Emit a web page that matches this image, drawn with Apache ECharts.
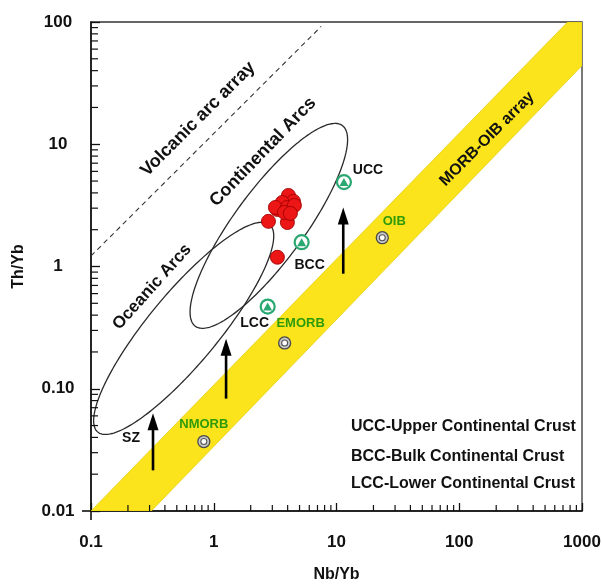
<!DOCTYPE html>
<html>
<head>
<meta charset="utf-8">
<script src="https://cdn.jsdelivr.net/npm/echarts@6/dist/echarts.min.js"></script>
<style>
  html, body { margin: 0; padding: 0; background: #fff; }
  #chart { width: 602px; height: 585px; }
</style>
</head>
<body>
<div id="chart"></div>
<script>
// ---- Axis ranges and ticks ----
const nbYbRange = [0.1, 1000];
const thYbRange = [0.01, 100];
const xTickLabels = ['0.1', '1', '10', '100', '1000'];
const yTickLabels = ['0.01', '0.10', '1', '10', '100'];
const xMinorTicks = [0.2, 0.3, 0.4, 0.5, 0.6, 0.7, 0.8, 0.9, 2, 3, 4, 5, 6, 7, 8, 9,
                     20, 30, 40, 50, 60, 70, 80, 90, 200, 300, 400, 500, 600, 700, 800, 900];
const yMinorTicks = [0.02, 0.03, 0.04, 0.05, 0.06, 0.07, 0.08, 0.09, 0.2, 0.3, 0.4, 0.5, 0.6, 0.7, 0.8, 0.9,
                     2, 3, 4, 5, 6, 7, 8, 9, 20, 30, 40, 50, 60, 70, 80, 90];

// ---- Samples ----
const sampleNbYb = [2.79, 3.30, 3.98, 3.30, 4.06, 4.46, 3.62, 3.18, 3.98, 4.54, 3.77, 4.21];
const sampleThYb = [2.34, 2.93, 2.29, 1.19, 3.81, 3.41, 3.34, 3.04, 3.04, 3.16, 2.77, 2.72];

// ---- Reference crust compositions ----
const crustNames = ['UCC', 'BCC', 'LCC'];
const crustNbYb = [11.5, 5.2, 2.75];
const crustThYb = [4.9, 1.58, 0.47];

// ---- Reference mantle-derived compositions ----
const mantleNames = ['NMORB', 'EMORB', 'OIB'];
const mantleNbYb = [0.83, 3.78, 23.6];
const mantleThYb = [0.037, 0.237, 1.72];

// ---- MORB-OIB array (band outline) ----
const bandNbYb = [0.1, 764, 1000, 1000, 0.31];
const bandThYb = [0.01, 100, 100, 44, 0.01];

// ---- Volcanic arc array (dashed line) ----
const volcanicNbYb = [0.1, 7.5];
const volcanicThYb = [1.22, 92];

// ---- Arc fields (ellipses in log10 space) ----
const fieldNames = ['Oceanic Arcs', 'Continental Arcs'];
const fieldCentreNbYb = [0.569, 2.81];
const fieldCentreThYb = [0.312, 2.15];
const fieldSemiMajorDecades = [1.10, 1.016];
const fieldSemiMinorDecades = [0.286, 0.286];
const fieldTiltDeg = [50.5, 53.9];

// ---- Enrichment arrows ----
const arrowNbYb = [0.32, 1.26, 11.35];
const arrowBaseThYb = [0.0215, 0.083, 0.873];
const arrowTipThYb = [0.063, 0.257, 3.04];

// ---- Legend notes ----
const notes = ['UCC-Upper Continental Crust', 'BCC-Bulk Continental Crust', 'LCC-Lower Continental Crust'];

// ---------------------------------------------------------------
const FONT = '"Liberation Sans", Arial, Helvetica, sans-serif';
const INK = '#111111';
const GREEN_TEXT = '#2f9a0a';
const GREEN_MARK = '#2aa872';

const chart = echarts.init(document.getElementById('chart'), null, { renderer: 'canvas' });

const crustLabelOffsets = [[24, -12], [8, 23], [-13, 17]];
const mantleLabelOffsets = [[0, -17], [16, -20], [12, -16]];

function ellipsePoints(i, api) {
  const cx = Math.log10(fieldCentreNbYb[i]);
  const cy = Math.log10(fieldCentreThYb[i]);
  const a = fieldSemiMajorDecades[i], b = fieldSemiMinorDecades[i];
  const th = fieldTiltDeg[i] * Math.PI / 180;
  const pts = [];
  const n = 200;
  for (let k = 0; k < n; k++) {
    const t = (k / n) * 2 * Math.PI;
    const lx = cx + a * Math.cos(t) * Math.cos(th) - b * Math.sin(t) * Math.sin(th);
    const ly = cy + a * Math.cos(t) * Math.sin(th) + b * Math.sin(t) * Math.cos(th);
    pts.push(api.coord([Math.pow(10, lx), Math.pow(10, ly)]));
  }
  return pts;
}

const option = {
  animation: false,
  backgroundColor: '#fff',
  textStyle: { fontFamily: FONT },
  grid: {
    left: 91, top: 22, width: 491, height: 489,
    outerBoundsMode: 'none',
    show: true, borderColor: '#333', borderWidth: 1.3, backgroundColor: 'transparent'
  },
  xAxis: {
    type: 'log', logBase: 10, min: nbYbRange[0], max: nbYbRange[1], splitNumber: 4,
    name: 'Nb/Yb', nameLocation: 'middle', nameGap: 56,
    nameTextStyle: { fontFamily: FONT, fontWeight: 'bold', fontSize: 16, color: INK },
    axisLine: { onZero: false, lineStyle: { color: INK, width: 1.6 } },
    axisTick: { inside: true, length: 8, lineStyle: { color: INK, width: 1.3 } },
    splitLine: { show: false },
    axisLabel: {
      margin: 23, fontFamily: FONT, fontWeight: 'bold', fontSize: 17, color: INK,
      formatter: v => xTickLabels[Math.round(Math.log10(v / nbYbRange[0]))]
    }
  },
  yAxis: {
    type: 'log', logBase: 10, min: thYbRange[0], max: thYbRange[1], splitNumber: 4,
    name: 'Th/Yb', nameLocation: 'middle', nameGap: 64,
    nameTextStyle: { fontFamily: FONT, fontWeight: 'bold', fontSize: 16, color: INK },
    axisLine: { onZero: false, lineStyle: { color: INK, width: 1.6 } },
    axisTick: { inside: true, length: 9, lineStyle: { color: INK, width: 1.3 } },
    splitLine: { show: false },
    axisLabel: {
      margin: 33, align: 'center', fontFamily: FONT, fontWeight: 'bold', fontSize: 17, color: INK,
      formatter: v => yTickLabels[Math.round(Math.log10(v / thYbRange[0]))]
    }
  },
  series: [
    // MORB-OIB array band
    {
      type: 'custom', name: 'MORB-OIB array', z: 1, clip: true, silent: true,
      data: [[bandNbYb[0], bandThYb[0]]],
      renderItem: (params, api) => ({
        type: 'polygon',
        shape: { points: bandNbYb.map((x, i) => api.coord([x, bandThYb[i]])) },
        style: { fill: '#fbe41c', stroke: '#e6cf10', lineWidth: 0.8 }
      })
    },
    // Arc field ellipses
    {
      type: 'custom', name: 'Arc fields', z: 2, clip: true, silent: true,
      data: fieldCentreNbYb.map((x, i) => [x, fieldCentreThYb[i]]),
      renderItem: (params, api) => ({
        type: 'polygon',
        shape: { points: ellipsePoints(params.dataIndex, api) },
        style: { fill: 'none', stroke: '#2a2a2a', lineWidth: 1.3 }
      })
    },
    // Volcanic arc array
    {
      type: 'line', name: 'Volcanic arc array', z: 2, symbol: 'none', silent: true,
      data: volcanicNbYb.map((x, i) => [x, volcanicThYb[i]]),
      lineStyle: { color: '#333', width: 1.1, type: [5, 4] }
    },
    // Enrichment arrows
    {
      type: 'custom', name: 'Arrows', z: 3, clip: true, silent: true,
      data: arrowNbYb.map((x, i) => [x, arrowBaseThYb[i], arrowTipThYb[i]]),
      encode: { x: 0, y: [1, 2] },
      renderItem: (params, api) => {
        const p0 = api.coord([api.value(0), api.value(1)]);
        const p1 = api.coord([api.value(0), api.value(2)]);
        const headLen = 17, headHalf = 5.5;
        return {
          type: 'group',
          children: [
            { type: 'line', shape: { x1: p0[0], y1: p0[1], x2: p1[0], y2: p1[1] + headLen - 2 },
              style: { stroke: '#000', lineWidth: 2.6 } },
            { type: 'polygon',
              shape: { points: [[p1[0], p1[1]], [p1[0] - headHalf, p1[1] + headLen], [p1[0] + headHalf, p1[1] + headLen]] },
              style: { fill: '#000' } }
          ]
        };
      }
    },
    // Mantle references: outer ring
    {
      type: 'scatter', name: 'Mantle', z: 4, symbol: 'circle', symbolSize: 12,
      itemStyle: { color: '#c8c8c8', borderColor: '#4a4a4a', borderWidth: 1.3, opacity: 1 },
      label: { show: true, position: 'inside', fontFamily: FONT, fontWeight: 'bold', fontSize: 13, color: GREEN_TEXT,
               formatter: p => p.name },
      data: mantleNames.map((n, i) => ({ name: n, value: [mantleNbYb[i], mantleThYb[i]], label: { offset: mantleLabelOffsets[i] } }))
    },
    {
      type: 'scatter', name: 'Mantle core', z: 5, symbol: 'circle', symbolSize: 6, silent: true,
      itemStyle: { color: '#ffffff', borderColor: '#555', borderWidth: 1.1, opacity: 1 },
      data: mantleNames.map((n, i) => [mantleNbYb[i], mantleThYb[i]])
    },
    // Crust references: ring + triangle
    {
      type: 'scatter', name: 'Crust', z: 4, symbol: 'circle', symbolSize: 14,
      itemStyle: { color: '#ffffff', borderColor: GREEN_MARK, borderWidth: 2.2, opacity: 1 },
      label: { show: true, position: 'inside', fontFamily: FONT, fontWeight: 'bold', fontSize: 14, color: INK,
               formatter: p => p.name },
      data: crustNames.map((n, i) => ({ name: n, value: [crustNbYb[i], crustThYb[i]], label: { offset: crustLabelOffsets[i] } }))
    },
    {
      type: 'scatter', name: 'Crust mark', z: 5, symbol: 'triangle', symbolSize: [9, 8], silent: true,
      itemStyle: { color: GREEN_MARK, opacity: 1 },
      data: crustNames.map((n, i) => [crustNbYb[i], crustThYb[i]])
    },
    // Samples
    {
      type: 'scatter', name: 'Samples', z: 6, symbol: 'circle', symbolSize: 14,
      itemStyle: { color: '#ec1616', borderColor: '#a10000', borderWidth: 0.9, opacity: 1 },
      data: sampleNbYb.map((x, i) => [x, sampleThYb[i]])
    },
    // Minor ticks along the Nb/Yb axis
    {
      type: 'custom', name: 'x minor ticks', z: 7, clip: false, silent: true,
      data: xMinorTicks.map(v => [v, thYbRange[0]]),
      renderItem: (params, api) => {
        const p = api.coord([api.value(0), thYbRange[0]]);
        return { type: 'line', shape: { x1: p[0], y1: p[1], x2: p[0], y2: p[1] - 6 },
                 style: { stroke: INK, lineWidth: 1.2 } };
      }
    },
    // Minor ticks along the Th/Yb axis
    {
      type: 'custom', name: 'y minor ticks', z: 7, clip: false, silent: true,
      data: yMinorTicks.map(v => [nbYbRange[0], v]),
      renderItem: (params, api) => {
        const p = api.coord([nbYbRange[0], api.value(1)]);
        return { type: 'line', shape: { x1: p[0], y1: p[1], x2: p[0] + 7, y2: p[1] },
                 style: { stroke: INK, lineWidth: 1.2 } };
      }
    }
  ],
  graphic: [
    // axis line overhangs at the origin corner
    { type: 'line', z: 10, shape: { x1: 82, y1: 511, x2: 91, y2: 511 }, style: { stroke: INK, lineWidth: 1.6 } },
    { type: 'line', z: 10, shape: { x1: 91, y1: 511, x2: 91, y2: 520 }, style: { stroke: INK, lineWidth: 1.6 } },
    // field names
    { type: 'text', x: 198, y: 119, rotation: 45 * Math.PI / 180, z: 10,
      style: { text: 'Volcanic arc array', font: 'bold 18px ' + FONT, fill: INK, align: 'center', verticalAlign: 'middle' } },
    { type: 'text', x: 263, y: 152, rotation: 46 * Math.PI / 180, z: 10,
      style: { text: fieldNames[1], font: 'bold 18px ' + FONT, fill: INK, align: 'center', verticalAlign: 'middle' } },
    { type: 'text', x: 152, y: 287, rotation: 48 * Math.PI / 180, z: 10,
      style: { text: fieldNames[0], font: 'bold 17px ' + FONT, fill: INK, align: 'center', verticalAlign: 'middle' } },
    { type: 'text', x: 487, y: 139, rotation: 45 * Math.PI / 180, z: 10,
      style: { text: 'MORB-OIB array', font: 'bold 16px ' + FONT, fill: INK, align: 'center', verticalAlign: 'middle' } },
    { type: 'text', x: 131, y: 438, z: 10,
      style: { text: 'SZ', font: 'bold 14px ' + FONT, fill: INK, align: 'center', verticalAlign: 'middle' } },
    // notes
    { type: 'text', x: 351, y: 427, z: 10,
      style: { text: notes[0], font: 'bold 16px ' + FONT, fill: INK, align: 'left', verticalAlign: 'middle' } },
    { type: 'text', x: 351, y: 457, z: 10,
      style: { text: notes[1], font: 'bold 16px ' + FONT, fill: INK, align: 'left', verticalAlign: 'middle' } },
    { type: 'text', x: 351, y: 484, z: 10,
      style: { text: notes[2], font: 'bold 16px ' + FONT, fill: INK, align: 'left', verticalAlign: 'middle' } }
  ]
};

chart.setOption(option);
</script>
</body>
</html>
